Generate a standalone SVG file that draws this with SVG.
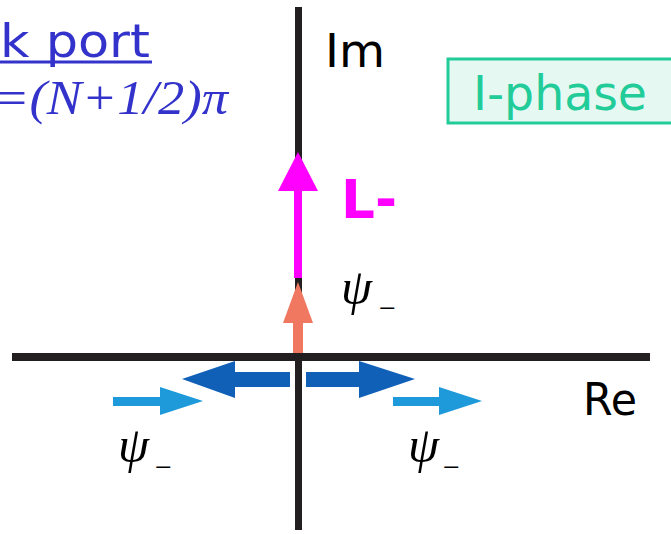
<svg xmlns="http://www.w3.org/2000/svg" width="671" height="534" viewBox="0 0 671 534">
<style>
.axis{fill:#231F20}
.hand{font-family:"DejaVu Sans","Liberation Sans",sans-serif}
.psi{font-family:"Liberation Serif",serif;font-style:italic;fill:#000}
.sub{font-family:"Liberation Serif",serif;fill:#000}
.dblue{fill:#1060B8}
.lblue{fill:#1E9ADA}
</style>
<rect width="671" height="534" fill="#fff"/>
<g id="title">
<text class="hand" x="0" y="57" font-size="46" fill="#3333CC" textLength="150" lengthAdjust="spacingAndGlyphs">k port</text>
<rect x="0" y="60.5" width="152" height="3" fill="#3333CC"/>
<text x="-6" y="114" font-family="Liberation Serif,serif" font-style="italic" font-size="48" fill="#3333CC" textLength="234" lengthAdjust="spacingAndGlyphs">=(N+1/2)π</text>
</g>
<g id="iphase">
<rect x="448" y="59" width="230" height="64" fill="#E6F8F2" stroke="#22CC99" stroke-width="3"/>
<text class="hand" x="473" y="110" font-size="48" fill="#22CC99" textLength="174" lengthAdjust="spacingAndGlyphs">I-phase</text>
</g>
<g id="axes">
<rect class="axis" x="295" y="7" width="7" height="523"/>
<rect class="axis" x="12" y="353" width="638" height="8"/>
<text class="hand" x="325" y="67" font-size="46" fill="#000" textLength="60" lengthAdjust="spacingAndGlyphs">Im</text>
<text class="hand" x="583" y="415" font-size="44" fill="#000" textLength="54" lengthAdjust="spacingAndGlyphs">Re</text>
</g>
<g id="connectors">
<rect x="294" y="188" width="8" height="90" fill="#FF00FF"/>
<polygon points="298,152 278,191 318,191" fill="#FF00FF"/>
<rect x="293" y="321" width="10" height="32" fill="#F07860"/>
<polygon points="298,282 283,323 313,323" fill="#F07860"/>
<polygon class="dblue" points="182,379 235,361 235,372 290,372 290,387 235,387 235,398"/>
<polygon class="dblue" points="415,379 359,361 359,372 306,372 306,387 359,387 359,398"/>
<polygon class="lblue" points="203,401 160,387 160,397 113,397 113,406 160,406 160,415"/>
<polygon class="lblue" points="482,401 439,387 439,397 393,397 393,406 439,406 439,415"/>
</g>
<g id="labels">
<text class="hand" x="341" y="218" font-size="54" font-weight="bold" fill="#FF00FF" textLength="56" lengthAdjust="spacingAndGlyphs">L-</text>
<text class="psi" x="341" y="304" font-size="50">ψ</text>
<text class="sub" x="379" y="318" font-size="30">−</text>
<text class="psi" x="118" y="462" font-size="50">ψ</text>
<text class="sub" x="155" y="477" font-size="30">−</text>
<text class="psi" x="408" y="462" font-size="50">ψ</text>
<text class="sub" x="443" y="477" font-size="30">−</text>
</g>
</svg>
